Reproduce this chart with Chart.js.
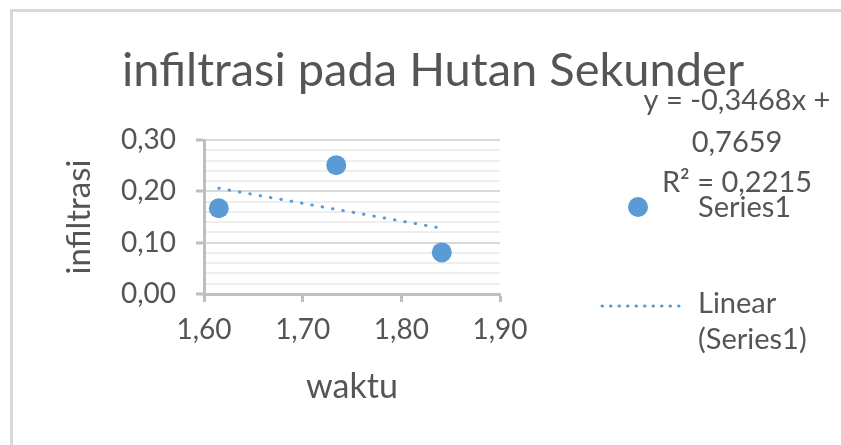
<!DOCTYPE html>
<html>
<head>
<meta charset="utf-8">
<script src="https://cdn.jsdelivr.net/npm/chart.js@4.4.1/dist/chart.umd.min.js"></script>
<style>
  html, body { margin: 0; padding: 0; background: #fff; overflow: hidden; }
  #wrap { position: relative; width: 841px; height: 445px; }
  #frame { position: absolute; left: 10px; top: 9px; width: 900px; height: 500px;
           border-left: 3px solid #d9d9d9; border-top: 3px solid #d9d9d9; }
  canvas { position: absolute; left: 0; top: 0; }
</style>
</head>
<body>
<div id="wrap">
  <div id="frame"></div>
  <canvas id="chart" width="841" height="445"></canvas>
</div>
<script>
const waktu = [1.615, 1.734, 1.841];
const infiltrasi = [0.167, 0.251, 0.081];
// trendline ends as drawn in the picture
const trendX = [1.615, 1.841];
const trendY = [0.206, 0.128];

const titleText = 'infiltrasi pada Hutan Sekunder';
const eqLines = ['y = -0,3468x +', '0,7659', 'R² = 0,2215'];
const seriesName = 'Series1';
const trendName = ['Linear', '(Series1)'];

const blue = '#5b9bd5';
const txt = '#555555';
const fam = 'Lato, "Open Sans", sans-serif';

const fmt = v => v.toFixed(2).replace('.', ',');
const isMajor = v => Math.abs(v * 10 - Math.round(v * 10)) < 1e-6;

const overlay = {
  id: 'overlay',
  afterDraw(chart) {
    const c = chart.ctx;
    c.save();
    c.fillStyle = txt;
    c.textBaseline = 'alphabetic';

    c.font = '47px ' + fam;
    c.textAlign = 'center';
    c.fillText(titleText, 433, 86);

    c.font = '29px ' + fam;
    c.fillText(eqLines[0], 737, 110);
    c.fillText(eqLines[1], 737, 152);
    c.fillText(eqLines[2], 737, 192);

    // legend
    c.textAlign = 'left';
    c.fillStyle = blue;
    c.beginPath();
    c.arc(638, 207, 10, 0, Math.PI * 2);
    c.fill();
    c.fillStyle = txt;
    c.fillText(chart.data.datasets[0].label, 698, 217);

    c.strokeStyle = blue;
    c.lineWidth = 3;
    c.lineCap = 'round';
    c.setLineDash([0.5, 8]);
    c.beginPath();
    c.moveTo(602, 306);
    c.lineTo(680, 306);
    c.stroke();
    c.setLineDash([]);
    c.fillText(trendName[0], 698, 313);
    c.fillText(trendName[1], 698, 349);
    c.restore();
  }
};

new Chart(document.getElementById('chart'), {
  type: 'scatter',
  data: {
    datasets: [
      {
        label: seriesName,
        data: waktu.map((x, i) => ({ x, y: infiltrasi[i] })),
        backgroundColor: blue,
        borderWidth: 0,
        pointRadius: 10,
        pointHoverRadius: 10,
        order: 1
      },
      {
        label: trendName.join(' '),
        type: 'line',
        data: trendX.map((x, i) => ({ x, y: trendY[i] })),
        borderColor: blue,
        borderWidth: 3,
        borderCapStyle: 'round',
        borderDash: [0.5, 10],
        pointRadius: 0,
        fill: false,
        order: 2
      }
    ]
  },
  options: {
    responsive: false,
    animation: false,
    layout: { padding: { top: 140, right: 341, left: 0, bottom: 0 } },
    plugins: {
      legend: { display: false },
      title: { display: false },
      tooltip: { enabled: false }
    },
    scales: {
      x: {
        type: 'linear',
        min: 1.6,
        max: 1.9,
        afterFit: s => { s.height = 151; },
        ticks: { stepSize: 0.1, color: txt, font: { size: 28, family: fam }, padding: 11, callback: v => fmt(v) },
        grid: { drawOnChartArea: false, drawTicks: true, tickLength: 8, tickColor: '#bfbfbf', tickWidth: 3 },
        border: { color: '#bfbfbf', width: 3 },
        title: { display: true, text: 'waktu', color: txt, font: { size: 34, family: fam }, padding: { top: 0, bottom: 38 } }
      },
      y: {
        min: 0,
        max: 0.3,
        afterFit: s => { s.width = 204; },
        ticks: {
          stepSize: 0.02, autoSkip: false, color: txt, font: { size: 28, family: fam }, padding: 20,
          callback: v => isMajor(v) ? fmt(v) : ''
        },
        grid: {
          color: ctx => isMajor(ctx.tick.value) ? '#d9d9d9' : '#eeeeee',
          lineWidth: 2,
          tickLength: 8,
          tickWidth: 3,
          tickColor: ctx => isMajor(ctx.tick.value) ? '#bfbfbf' : 'rgba(0,0,0,0)'
        },
        border: { color: '#bfbfbf', width: 3 },
        title: { display: true, text: 'infiltrasi', color: txt, font: { size: 33, family: fam }, padding: { top: 60, bottom: 0 } }
      }
    }
  },
  plugins: [overlay]
});
</script>
</body>
</html>
